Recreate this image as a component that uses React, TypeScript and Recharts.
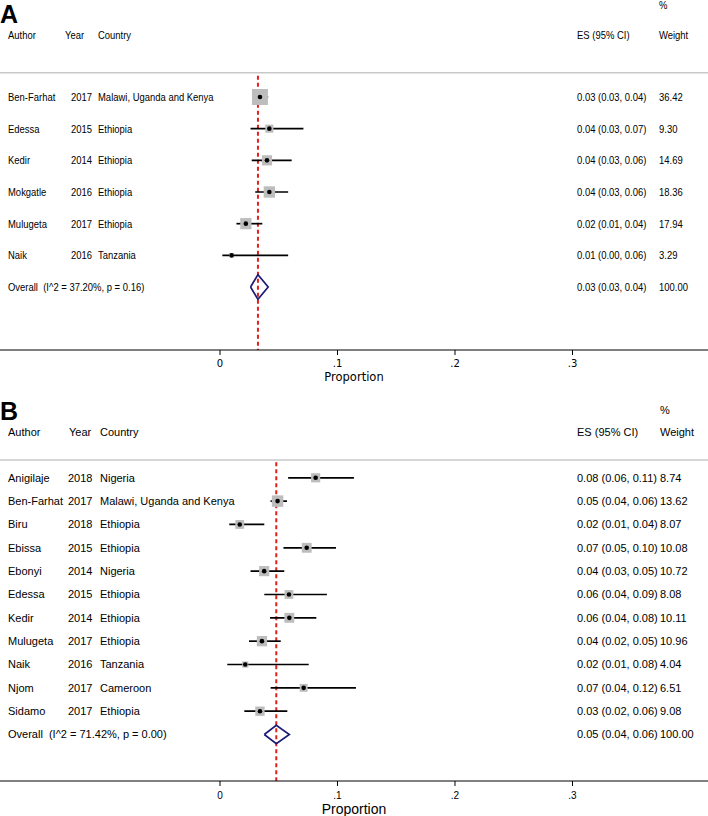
import React from 'react';
import { ComposedChart, Scatter, XAxis, YAxis, ErrorBar, ReferenceLine } from 'recharts';

// ---- panel A ----
const authorsA = ['Ben-Farhat', 'Edessa', 'Kedir', 'Mokgatle', 'Mulugeta', 'Naik'];
const yearsA = [2017, 2015, 2014, 2016, 2017, 2016];
const countriesA = ['Malawi, Uganda and Kenya', 'Ethiopia', 'Ethiopia', 'Ethiopia', 'Ethiopia', 'Tanzania'];
const esA = [0.034, 0.042, 0.04, 0.042, 0.022, 0.0099];
const loA = [0.029, 0.026, 0.027, 0.03, 0.014, 0.002];
const hiA = [0.041, 0.071, 0.061, 0.058, 0.036, 0.058];
const weightsA = [36.42, 9.3, 14.69, 18.36, 17.94, 3.29];
const overallA = [0.0323, 0.026, 0.041]; // es, lo, hi
const hetA = [37.2, 0.16]; // I^2, p

// ---- panel B ----
const authorsB = ['Anigilaje', 'Ben-Farhat', 'Biru', 'Ebissa', 'Ebonyi', 'Edessa', 'Kedir', 'Mulugeta', 'Naik', 'Njom', 'Sidamo'];
const yearsB = [2018, 2017, 2018, 2015, 2014, 2015, 2014, 2017, 2016, 2017, 2017];
const countriesB = ['Nigeria', 'Malawi, Uganda and Kenya', 'Ethiopia', 'Ethiopia', 'Nigeria', 'Ethiopia', 'Ethiopia', 'Ethiopia', 'Tanzania', 'Cameroon', 'Ethiopia'];
const esB = [0.0814, 0.049, 0.0168, 0.0738, 0.0376, 0.0587, 0.059, 0.0357, 0.0215, 0.0712, 0.034];
const loB = [0.058, 0.043, 0.0079, 0.054, 0.026, 0.0377, 0.0426, 0.0247, 0.0062, 0.0431, 0.0207];
const hiB = [0.114, 0.057, 0.0377, 0.0987, 0.0547, 0.091, 0.082, 0.0517, 0.0755, 0.1157, 0.0573];
const weightsB = [8.74, 13.62, 8.07, 10.08, 10.72, 8.08, 10.11, 10.96, 4.04, 6.51, 9.08];
const overallB = [0.0479, 0.0377, 0.059];
const hetB = [71.42, 0.0];

const xTicks = [0, 0.1, 0.2, 0.3];
const X_DOMAIN = [-0.18723, 0.41532];

// layout rows (in row units)
const PCT_ROW = -1.9;
const HEAD_ROW = -0.96;
const RULE_ROW = 0.235;
const RED_TOP = 0.33;
const DIAMOND_H = 0.39;

const f2 = (v: number) => v.toFixed(2);
const fmtTick = (v: number) => (v === 0 ? '0' : '.' + Math.round(v * 10));

type Cols = { author: number; yearHead: number; year: number; countryHead: number; country: number; es: number; weight: number };

type PanelProps = {
  authors: string[];
  years: number[];
  countries: string[];
  es: number[];
  lo: number[];
  hi: number[];
  weights: number[];
  overall: number[];
  het: number[];
  top: number;
  height: number;
  yDomain: number[];
  font: string;
  fontSize: number;
  textScale: number;
  axisFont: string;
  axisFontSize: number;
  labelSize: number;
  tickMargin: number;
  labelOffset: number;
  boxK: number;
  cols: Cols;
};

const Panel = (p: PanelProps) => {
  const rows = p.authors.map((a, i) => ({
    x: p.es[i],
    y: i + 1,
    err: [p.es[i] - p.lo[i], p.hi[i] - p.es[i]],
    weight: p.weights[i],
  }));
  const oy = rows.length + 1;
  const [oes, olo, ohi] = p.overall;
  const diamond = [
    { x: olo, y: oy },
    { x: oes, y: oy - DIAMOND_H },
    { x: ohi, y: oy },
    { x: oes, y: oy + DIAMOND_H },
    { x: olo, y: oy },
  ];

  // text lines, placed on the row scale (columns are fixed)
  const c = p.cols;
  const textRows = [
    { x: 0, y: PCT_ROW, cells: [[c.weight, '%']] },
    {
      x: 0,
      y: HEAD_ROW,
      cells: [
        [c.author, 'Author'],
        [c.yearHead, 'Year'],
        [c.countryHead, 'Country'],
        [c.es, 'ES (95% CI)'],
        [c.weight, 'Weight'],
      ],
    },
    ...p.authors.map((a, i) => ({
      x: 0,
      y: i + 1,
      cells: [
        [c.author, a],
        [c.year, String(p.years[i])],
        [c.country, p.countries[i]],
        [c.es, `${f2(p.es[i])} (${f2(p.lo[i])}, ${f2(p.hi[i])})`],
        [c.weight, f2(p.weights[i])],
      ],
    })),
    {
      x: 0,
      y: oy,
      cells: [
        [c.author, `Overall  (I^2 = ${f2(p.het[0])}%, p = ${f2(p.het[1])})`],
        [c.es, `${f2(oes)} (${f2(olo)}, ${f2(ohi)})`],
        [c.weight, '100.00'],
      ],
    },
  ];

  const textShape = (props: any) => (
    <g>
      {props.payload.cells.map(([x, s]: [number, string]) => (
        <text
          key={x}
          transform={`translate(${x} ${props.cy}) scale(${p.textScale} 1)`}
          x={0}
          y={0}
          dy="0.36em"
          fontFamily={p.font}
          fontSize={p.fontSize}
          fill="#000"
          style={{ whiteSpace: 'pre' }}
        >
          {s}
        </text>
      ))}
    </g>
  );

  const boxShape = (props: any) => {
    const s = p.boxK * Math.sqrt(props.payload.weight);
    return <rect x={props.cx - s / 2} y={props.cy - s / 2} width={s} height={s} fill="#bdbdbd" />;
  };
  const dotShape = (props: any) => <circle cx={props.cx} cy={props.cy} r={2.3} fill="#000" />;

  return (
    <div style={{ position: 'absolute', left: 0, top: p.top }}>
      <ComposedChart width={708} height={p.height} margin={{ top: 0, right: 0, bottom: 0, left: 0 }}>
        <XAxis
          type="number"
          dataKey="x"
          domain={X_DOMAIN}
          ticks={xTicks}
          allowDataOverflow
          tickFormatter={fmtTick}
          height={35}
          stroke="#000"
          tickSize={5}
          tickMargin={p.tickMargin}
          tick={{ fontFamily: p.axisFont, fontSize: p.axisFontSize, fill: '#000' }}
          label={{ value: 'Proportion', position: 'insideBottom', offset: p.labelOffset, fontFamily: p.axisFont, fontSize: p.labelSize, fill: '#000' }}
        />
        <YAxis type="number" dataKey="y" domain={p.yDomain} reversed allowDataOverflow width={0} axisLine={false} tickLine={false} tick={false} />
        <ReferenceLine y={RULE_ROW} stroke="#c8c8c8" strokeWidth={1.5} />
        <ReferenceLine
          segment={[
            { x: oes, y: RED_TOP },
            { x: oes, y: p.yDomain[1] },
          ]}
          stroke="#e0201b"
          strokeWidth={2}
          strokeDasharray="4 3"
        />
        <Scatter data={textRows} shape={textShape} isAnimationActive={false} />
        <Scatter data={rows} shape={boxShape} isAnimationActive={false} />
        <Scatter data={rows} shape={dotShape} isAnimationActive={false}>
          <ErrorBar dataKey="err" direction="x" width={0} stroke="#000" strokeWidth={1.7} />
        </Scatter>
        <Scatter data={diamond} line={{ stroke: '#1c1c78', strokeWidth: 1.7 }} shape={() => <g />} isAnimationActive={false} />
      </ComposedChart>
    </div>
  );
};

const letterStyle: React.CSSProperties = {
  position: 'absolute',
  left: 0,
  fontFamily: '"Liberation Sans", Arial, sans-serif',
  fontWeight: 'bold',
  fontSize: 25,
  lineHeight: '28px',
};

export default function App() {
  return (
    <div style={{ position: 'absolute', left: 0, top: 0, width: 708, height: 816, background: '#fff' }}>
      <Panel
        authors={authorsA}
        years={yearsA}
        countries={countriesA}
        es={esA}
        lo={loA}
        hi={hiA}
        weights={weightsA}
        overall={overallA}
        het={hetA}
        top={0}
        height={385}
        yDomain={[-2.063, 8.989]}
        font={'"Liberation Sans", Arial, sans-serif'}
        fontSize={11}
        textScale={0.86}
        axisFont={'"DejaVu Sans", sans-serif'}
        axisFontSize={10}
        labelSize={11.5}
        tickMargin={5}
        labelOffset={4}
        boxK={2.65}
        cols={{ author: 8, yearHead: 65, year: 71, countryHead: 98, country: 98, es: 577, weight: 659 }}
      />
      <Panel
        authors={authorsB}
        years={yearsB}
        countries={countriesB}
        es={esB}
        lo={loB}
        hi={hiB}
        weights={weightsB}
        overall={overallB}
        het={hetB}
        top={390}
        height={426}
        yDomain={[-2.761, 13.991]}
        font={'"Liberation Sans", Arial, sans-serif'}
        fontSize={11}
        textScale={1}
        axisFont={'"Liberation Sans", Arial, sans-serif'}
        axisFontSize={10}
        labelSize={14}
        tickMargin={6}
        labelOffset={2}
        boxK={3.1}
        cols={{ author: 8, yearHead: 69, year: 68, countryHead: 100, country: 100, es: 577, weight: 660 }}
      />
      <div style={{ ...letterStyle, top: 0 }}>A</div>
      <div style={{ ...letterStyle, top: 397 }}>B</div>
    </div>
  );
}
